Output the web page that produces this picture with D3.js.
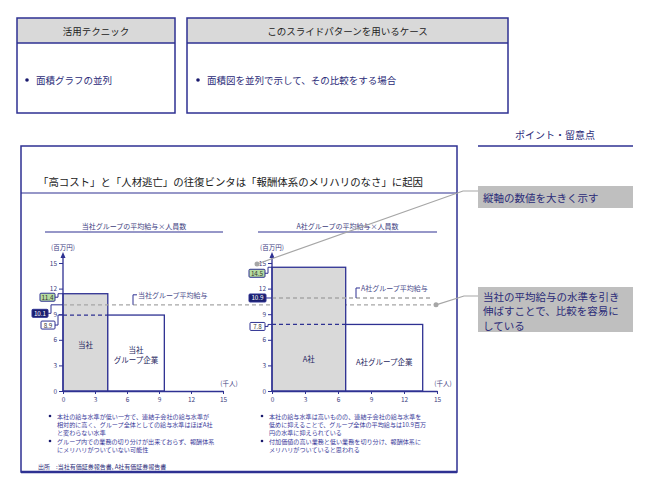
<!DOCTYPE html>
<html><head><meta charset="utf-8">
<script src="https://cdn.jsdelivr.net/npm/d3@7/dist/d3.min.js"></script>
<style>body{margin:0;background:#fff}svg{display:block}text{font-family:"Noto Sans CJK JP","Noto Sans",sans-serif}</style>
</head><body><svg id="c" width="650" height="487"></svg>
<script>
// ---- data ----
const yTicks = [0, 3, 6, 9, 12, 15];
const xTicks = [0, 3, 6, 9, 12, 15];
const leftCategories = ["当社", "当社\nグループ企業"];
const leftWidths = [4.2, 5.3];      // 千人
const leftHeights = [11.4, 8.9];    // 百万円
const leftAvg = 10.1;
const rightCategories = ["A社", "A社グループ企業"];
const rightWidths = [6.7, 7.0];
const rightHeights = [14.5, 7.8];
const rightAvg = 10.9;
const leftTitle = "当社グループの平均給与×人員数";
const rightTitle = "A社グループの平均給与×人員数";
const leftAvgLabel = "当社グループ平均給与";
const rightAvgLabel = "A社グループ平均給与";
const leftBullets = [
  ["本社の給与水準が低い一方で、連結子会社の給与水準が", "相対的に高く、グループ全体としての給与水準はほぼA社", "と変わらない水準"],
  ["グループ内での業務の切り分けが出来ておらず、報酬体系", "にメリハリがついていない可能性"]
];
const rightBullets = [
  ["本社の給与水準は高いものの、連結子会社の給与水準を", "低めに抑えることで、グループ全体の平均給与は10.9百万", "円の水準に抑えられている"],
  ["付加価値の高い業務と低い業務を切り分け、報酬体系に", "メリハリがついていると思われる"]
];

const NAVY = "#2e3192", TXT = "#2b2b78", GRAY = "#a6a6a6";
const svg = d3.select("#c");

// ---- top boxes ----
function topBox(x, y, w, h, head, body, bx) {
  svg.append("rect").attr("x", x).attr("y", y).attr("width", w).attr("height", 25).attr("fill", "#d9d9d9");
  svg.append("rect").attr("x", x).attr("y", y).attr("width", w).attr("height", h).attr("fill", "none").attr("stroke", NAVY).attr("stroke-width", 1.5);
  svg.append("line").attr("x1", x).attr("x2", x + w).attr("y1", y + 25).attr("y2", y + 25).attr("stroke", NAVY).attr("stroke-width", 1.5);
  svg.append("text").attr("x", x + w / 2).attr("y", y + 13).attr("text-anchor", "middle").attr("dominant-baseline", "central").attr("font-size", 9.5).attr("fill", "#222").text(head);
  svg.append("circle").attr("cx", bx).attr("cy", 80).attr("r", 1.8).attr("fill", "#1a1a6e");
  svg.append("text").attr("x", bx + 9).attr("y", 80).attr("dominant-baseline", "central").attr("font-size", 9.5).attr("fill", TXT).text(body);
}
topBox(17, 18, 158, 95, "活用テクニック", "面積グラフの並列", 27);
topBox(187, 18, 321, 95, "このスライドパターンを用いるケース", "面積図を並列で示して、その比較をする場合", 198);

// ---- points panel ----
svg.append("text").attr("x", 555).attr("y", 134).attr("text-anchor", "middle").attr("dominant-baseline", "central").attr("font-size", 10).attr("fill", TXT).text("ポイント・留意点");
svg.append("line").attr("x1", 478).attr("x2", 633).attr("y1", 146).attr("y2", 146).attr("stroke", NAVY).attr("stroke-width", 1.5);
svg.append("rect").attr("x", 478).attr("y", 186).attr("width", 155).attr("height", 22).attr("fill", "#bfbfbf");
svg.append("text").attr("x", 483).attr("y", 197).attr("dominant-baseline", "central").attr("font-size", 10.5).attr("fill", TXT).text("縦軸の数値を大きく示す");
svg.append("rect").attr("x", 478).attr("y", 287).attr("width", 155).attr("height", 45).attr("fill", "#bfbfbf");
["当社の平均給与の水準を引き", "伸ばすことで、比較を容易に", "している"].forEach((t, i) =>
  svg.append("text").attr("x", 483).attr("y", 296 + i * 14.5).attr("dominant-baseline", "central").attr("font-size", 10.5).attr("fill", TXT).text(t));

// ---- main box ----
svg.append("rect").attr("x", 21).attr("y", 146).attr("width", 436).attr("height", 326).attr("fill", "none").attr("stroke", NAVY).attr("stroke-width", 1.5);
svg.append("line").attr("x1", 21).attr("x2", 457).attr("y1", 472).attr("y2", 472).attr("stroke", NAVY).attr("stroke-width", 2.5);
svg.append("line").attr("x1", 21).attr("x2", 457).attr("y1", 193).attr("y2", 193).attr("stroke", NAVY).attr("stroke-width", 1.2);
svg.append("text").attr("x", 38).attr("y", 181).attr("dominant-baseline", "central").attr("font-size", 10.5).attr("fill", "#1a1a1a")
  .attr("textLength", 385).attr("lengthAdjust", "spacingAndGlyphs")
  .text("「高コスト」と「人材逃亡」の往復ビンタは「報酬体系のメリハリのなさ」に起因");
svg.append("text").attr("x", 38).attr("y", 466).attr("dominant-baseline", "central").attr("font-size", 6).attr("fill", TXT).text("出所　:当社有価証券報告書, A社有価証券報告書");

const y = d3.scaleLinear().domain([0, 15]).range([391, 263]);

function chart(cfg) {
  const x = d3.scaleLinear().domain([0, 15]).range([cfg.x0, cfg.x1]);
  const g = svg.append("g");
  // subtitle
  g.append("text").attr("x", (cfg.sx0 + cfg.sx1) / 2).attr("y", 226).attr("text-anchor", "middle").attr("dominant-baseline", "central").attr("font-size", 7).attr("fill", "#3d3d80").text(cfg.title);
  g.append("line").attr("x1", cfg.sx0).attr("x2", cfg.sx1).attr("y1", 232).attr("y2", 232).attr("stroke", NAVY).attr("stroke-width", 1.2);
  // bars
  let acc = 0;
  const bars = cfg.widths.map((w, i) => { const b = {x0: acc, x1: acc + w, h: cfg.heights[i], cat: cfg.cats[i]}; acc += w; return b; });
  g.selectAll("rect.bar").data(bars).join("rect").attr("class", "bar")
    .attr("x", d => x(d.x0)).attr("width", d => x(d.x1) - x(d.x0))
    .attr("y", d => y(d.h)).attr("height", d => y(0) - y(d.h))
    .attr("fill", (d, i) => i === 0 ? "#d9d9d9" : "#fff").attr("stroke", NAVY).attr("stroke-width", 1.3);
  // dashed group level across first bar
  g.append("line").attr("x1", x(0)).attr("x2", x(bars[1].x0)).attr("y1", y(bars[1].h)).attr("y2", y(bars[1].h))
    .attr("stroke", NAVY).attr("stroke-width", 1.3).attr("stroke-dasharray", "4,3");
  // category labels
  bars.forEach((b, i) => {
    const lines = b.cat.split("\n");
    const cy = y(cfg.labelY[i]);
    lines.forEach((t, j) => g.append("text").attr("x", (x(b.x0) + x(b.x1)) / 2).attr("y", cy + (j - (lines.length - 1) / 2) * 10)
      .attr("text-anchor", "middle").attr("dominant-baseline", "central").attr("font-size", 7.5).attr("fill", "#1f1f5f").text(t));
  });
  // avg line
  g.append("line").attr("x1", x(0)).attr("x2", cfg.avgEnd).attr("y1", y(cfg.avg)).attr("y2", y(cfg.avg))
    .attr("stroke", GRAY).attr("stroke-width", 1.3).attr("stroke-dasharray", "4,3");
  // avg label with bracket
  const ay = y(cfg.avg);
  g.append("path").attr("d", `M${cfg.alx},${ay} V${ay - 10} H${cfg.alx + 4}`).attr("fill", "none").attr("stroke", NAVY).attr("stroke-width", 1);
  g.append("text").attr("x", cfg.alx + 5).attr("y", ay - 10).attr("dominant-baseline", "central").attr("font-size", 7).attr("fill", "#4a4a8a").text(cfg.avgLabel);
  // axes
  const ax = g.append("g").attr("transform", `translate(${x(0)},0)`);
  ax.append("line").attr("y1", y(0)).attr("y2", 255).attr("stroke", NAVY).attr("stroke-width", 1.3);
  ax.append("path").attr("d", "M-2.5,258 L0,252 L2.5,258 Z").attr("fill", NAVY);
  const yAx = ax.append("g").call(d3.axisLeft(y).tickValues(yTicks).tickSize(4).tickPadding(2));
  yAx.select(".domain").remove();
  yAx.selectAll("line").attr("stroke", NAVY);
  yAx.selectAll("text").attr("font-size", 6.5).attr("fill", "#3d3d80").attr("font-family", "Noto Sans, sans-serif");
  g.append("text").attr("x", x(0)).attr("y", 247).attr("text-anchor", "middle").attr("dominant-baseline", "central").attr("font-size", 6.5).attr("fill", "#3d3d80").text("(百万円)");
  const xAx = g.append("g").attr("transform", `translate(0,${y(0)})`).call(d3.axisBottom(x).tickValues(xTicks).tickSize(3).tickPadding(3).tickSizeOuter(0));
  xAx.select(".domain").attr("stroke", NAVY).attr("stroke-width", 1.3);
  xAx.selectAll("line").attr("stroke", NAVY);
  xAx.selectAll("text").attr("font-size", 6.5).attr("fill", "#3d3d80").attr("font-family", "Noto Sans, sans-serif");
  g.append("text").attr("x", cfg.x1 + 6).attr("y", 383).attr("text-anchor", "middle").attr("dominant-baseline", "central").attr("font-size", 6.5).attr("fill", "#3d3d80").text("(千人)");
  // value tags
  cfg.tags.forEach(t => {
    const ly = y(t.v), by = ly + t.dy, bx1 = t.bx + t.w;
    g.append("path").attr("d", `M${bx1},${by} H${bx1 + 3} V${ly} H${x(0)}`).attr("fill", "none").attr("stroke", NAVY).attr("stroke-width", 1);
    g.append("rect").attr("x", t.bx).attr("y", by - 4).attr("width", t.w).attr("height", 8).attr("rx", 1)
      .attr("fill", t.fill).attr("stroke", NAVY).attr("stroke-width", 1);
    g.append("text").attr("x", t.bx + t.w / 2).attr("y", by).attr("text-anchor", "middle").attr("dominant-baseline", "central")
      .attr("font-size", 6.3).attr("fill", t.tc).attr("font-family", "Noto Sans, sans-serif").text(d3.format(".1f")(t.v));
  });
  // bullets
  cfg.bullets.forEach((lines, i) => {
    lines.forEach((t, j) => {
      const ly = cfg.bulletY[i] + j * 8.2;
      if (j === 0) g.append("circle").attr("cx", cfg.bx).attr("cy", ly).attr("r", 1.3).attr("fill", "#1a1a6e");
      g.append("text").attr("x", cfg.bx + 7).attr("y", ly).attr("dominant-baseline", "central").attr("font-size", 6.1).attr("fill", "#3a3a9a").text(t);
    });
  });
  return x;
}

chart({x0: 63, x1: 223, sx0: 45, sx1: 223, title: leftTitle, cats: leftCategories, widths: leftWidths, heights: leftHeights,
  labelY: [5.5, 4.3], avg: leftAvg, avgEnd: 436, alx: 133, avgLabel: leftAvgLabel,
  tags: [{v: leftHeights[0], dy: 3.5, bx: 40, w: 15, fill: "#b6dca0", tc: "#333"},
         {v: leftAvg, dy: 8.5, bx: 32, w: 16, fill: "#1a1f6e", tc: "#fff"},
         {v: leftHeights[1], dy: 10, bx: 41, w: 14, fill: "#fff", tc: "#333"}],
  bullets: leftBullets, bulletY: [416, 441], bx: 50});

chart({x0: 272, x1: 437, sx0: 258, sx1: 437, title: rightTitle, cats: rightCategories, widths: rightWidths, heights: rightHeights,
  labelY: [3.8, 3.5], avg: rightAvg, avgEnd: 431, alx: 356, avgLabel: rightAvgLabel,
  tags: [{v: rightHeights[0], dy: 6, bx: 249, w: 16, fill: "#b6dca0", tc: "#333"},
         {v: rightAvg, dy: 0, bx: 249, w: 17, fill: "#1a1f6e", tc: "#fff"},
         {v: rightHeights[1], dy: 2, bx: 250, w: 15, fill: "#fff", tc: "#333"}],
  bullets: rightBullets, bulletY: [416, 441], bx: 262});

// ---- connectors to point boxes ----
const conn = (pts, dot) => {
  svg.append("path").attr("d", d3.line()(pts)).attr("fill", "none").attr("stroke", GRAY).attr("stroke-width", 1.2);
  svg.append("circle").attr("cx", dot[0]).attr("cy", dot[1]).attr("r", 2.5).attr("fill", GRAY);
};
conn([[257, 264], [463, 191], [478, 191]], [257, 264]);
conn([[436, y(leftAvg)], [464, 296], [478, 296]], [436, y(leftAvg)]);
</script></body></html>
